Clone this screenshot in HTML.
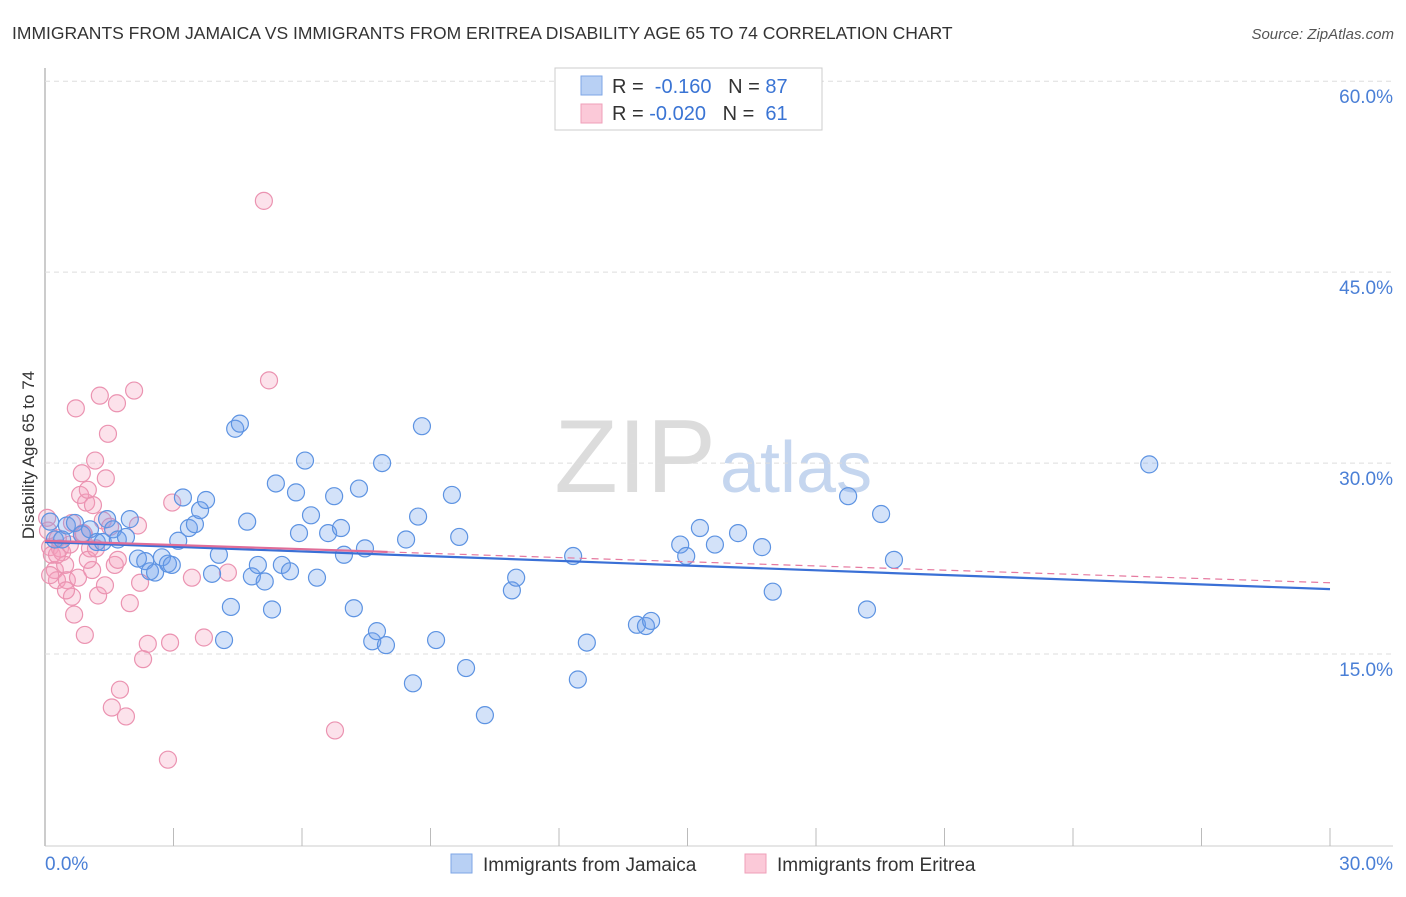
<!DOCTYPE html>
<html><head><meta charset="utf-8"><style>
body{margin:0;background:#fff;font-family:"Liberation Sans",sans-serif;}
svg text{font-family:"Liberation Sans",sans-serif;}
</style></head><body>
<svg id="c" width="1406" height="892">
<text x="12" y="39" font-size="17.5" fill="#333">IMMIGRANTS FROM JAMAICA VS IMMIGRANTS FROM ERITREA DISABILITY AGE 65 TO 74 CORRELATION CHART</text>
<text x="1394" y="39" font-size="15" fill="#555" font-style="italic" text-anchor="end">Source: ZipAtlas.com</text>
<text x="716" y="492" font-size="104" fill="#dcdcdc" text-anchor="end" font-family="Liberation Serif">ZIP</text>
<text x="720" y="492" font-size="72" fill="#c5d6ef">atlas</text>
<text x="34" y="455" font-size="17" fill="#333" text-anchor="middle" transform="rotate(-90 34 455)">Disability Age 65 to 74</text>
<g id="grid"></g><g id="pts"></g><g id="lines"></g>
<g>
<rect x="555" y="68" width="267" height="62" fill="#fff" stroke="#ccc"/>
<rect x="581" y="76" width="21" height="19" fill="#b8d0f4" stroke="#7ea6e6"/>
<rect x="581" y="104" width="21" height="19" fill="#fbc9d8" stroke="#ef9fb9"/>
<text x="612" y="93" font-size="20" fill="#333">R = <tspan fill="#3a74d4">&#160;-0.160</tspan>&#160;&#160;&#160;N = <tspan fill="#3a74d4">87</tspan></text>
<text x="612" y="120" font-size="20" fill="#333">R = <tspan fill="#3a74d4">-0.020</tspan>&#160;&#160;&#160;N = <tspan fill="#3a74d4">&#160;61</tspan></text>
</g>
<g>
<rect x="451" y="854" width="21" height="19" fill="#b8d0f4" stroke="#7ea6e6"/>
<text x="483" y="871" font-size="19" fill="#333">Immigrants from Jamaica</text>
<rect x="745" y="854" width="21" height="19" fill="#fbc9d8" stroke="#ef9fb9"/>
<text x="777" y="871" font-size="19" fill="#333">Immigrants from Eritrea</text>
</g>
</svg>
<script>
const xTicks=["0.0%","30.0%"];
const yTickVals=[15,30,45,60];
const yTickLabels=["15.0%","30.0%","45.0%","60.0%"];
const jamaicaX=[0.12,0.23,0.4,0.51,0.7,0.86,1.05,1.21,1.35,1.45,1.59,1.7,1.89,1.98,2.17,2.34,2.45,2.57,2.73,2.87,2.96,3.11,3.22,3.36,3.5,3.62,3.76,3.9,4.06,4.18,4.34,4.44,4.55,4.72,4.83,4.97,5.13,5.3,5.39,5.53,5.72,5.86,5.93,6.07,6.21,6.35,6.61,6.75,6.91,6.98,7.21,7.33,7.47,7.64,7.75,7.87,7.96,8.43,8.59,8.71,8.8,9.13,9.5,9.67,9.83,10.27,10.9,11,12.33,12.44,12.65,13.82,14.03,14.15,14.83,14.97,15.29,15.64,16.18,16.74,16.99,18.75,19.19,19.52,19.82,25.78];
const jamaicaY=[25.4,24.0,24.0,25.1,25.3,24.4,24.8,23.8,23.8,25.6,24.8,24.0,24.2,25.6,22.5,22.3,21.5,21.4,22.6,22.1,22.0,23.9,27.3,24.9,25.2,26.3,27.1,21.3,22.8,16.1,18.7,32.7,33.1,25.4,21.1,22.0,20.7,18.5,28.4,22.0,21.5,27.7,24.5,30.2,25.9,21.0,24.5,27.4,24.9,22.8,18.6,28.0,23.3,16.0,16.8,30.0,15.7,24.0,12.7,25.8,32.9,16.1,27.5,24.2,13.9,10.2,20.0,21.0,22.7,13.0,15.9,17.3,17.2,17.6,23.6,22.7,24.9,23.6,24.5,23.4,19.9,27.4,18.5,26.0,22.4,29.9];
const eritreaX=[0.05,0.07,0.12,0.16,0.23,0.28,0.35,0.40,0.47,0.51,0.58,0.63,0.68,0.72,0.77,0.82,0.86,0.91,0.96,1.00,1.05,1.10,1.12,1.17,1.24,1.28,1.35,1.42,1.47,1.52,1.63,1.68,1.75,1.89,1.56,1.98,2.08,2.17,2.22,2.29,2.40,2.87,2.92,2.97,3.43,3.71,4.27,5.11,5.23,6.77,0.28,0.93,1.40,0.12,0.30,0.49,0.63,1.00,1.70,0.89,1.19];
const eritreaY=[25.7,24.7,23.4,22.8,21.6,20.8,23.3,23.0,22.0,20.8,23.6,19.5,18.1,34.3,21.0,27.5,29.2,24.4,26.9,27.9,23.3,21.6,26.7,30.2,19.6,35.3,25.5,28.8,32.3,25.0,22.0,34.7,12.2,10.1,10.8,19.0,35.7,25.1,20.6,14.6,15.8,6.7,15.9,26.9,21.0,16.3,21.4,50.6,36.5,9.0,22.8,16.5,20.4,21.2,24.1,20.0,25.3,22.4,22.4,24.5,23.3];
const jamaicaTrend=[23.8,20.1];
const eritreaTrend=[23.9,20.6];
const eritreaSolidEnd=8.0;
const NS="http://www.w3.org/2000/svg";
const X0=45,X1=1330,Y0=845,PPY=12.73;
function sx(v){return X0+(X1-X0)*v/30;}
function sy(v){return Y0-v*PPY;}
function mk(tag,attrs,parent){const e=document.createElementNS(NS,tag);for(const k in attrs)e.setAttribute(k,attrs[k]);parent.appendChild(e);return e;}
const grid=document.getElementById('grid');
const ax=mk('line',{x1:X0,y1:68,x2:X0,y2:846,stroke:'#bbb','stroke-width':1.5},grid);


const bx=mk('line',{x1:X0,y1:846,x2:1393,y2:846,stroke:'#ccc'},grid);


yTickVals.forEach((v,i)=>{
 const l=mk('line',{x1:X0,y1:sy(v),x2:1393,y2:sy(v),stroke:'#ddd','stroke-dasharray':'5,4'},grid);
 
 
 const t=mk('text',{x:1393,y:sy(v)+22,'font-size':19,fill:'#4a7fd6','text-anchor':'end'},grid);
 t.textContent=yTickLabels[i];
 
 
});
for(let i=0;i<=10;i++){
 const l=mk('line',{x1:sx(i*3),y1:828,x2:sx(i*3),y2:846,stroke:'#bbb'},grid);
 
 
}
const t0=mk('text',{x:45,y:870,'font-size':19,fill:'#4a7fd6'},grid);t0.textContent=xTicks[0];


const t1=mk('text',{x:1393,y:870,'font-size':19,fill:'#4a7fd6','text-anchor':'end'},grid);t1.textContent=xTicks[1];


const pts=document.getElementById('pts');
eritreaX.forEach((x,i)=>{
 const c=mk('circle',{cx:sx(x),cy:sy(eritreaY[i]),r:8.5,fill:'rgba(244,160,188,0.3)',stroke:'#eb93b1','stroke-width':1.2},pts);
 
 
});
jamaicaX.forEach((x,i)=>{
 const c=mk('circle',{cx:sx(x),cy:sy(jamaicaY[i]),r:8.5,fill:'rgba(110,160,235,0.3)',stroke:'#5d93e2','stroke-width':1.2},pts);
 
 
});
const lines=document.getElementById('lines');
const ef=x=>eritreaTrend[0]+(eritreaTrend[1]-eritreaTrend[0])*x/30;
const ed=mk('line',{x1:sx(eritreaSolidEnd),y1:sy(ef(eritreaSolidEnd)),x2:sx(30),y2:sy(eritreaTrend[1]),stroke:'#e67aa0','stroke-width':1.2,'stroke-dasharray':'7,5'},lines);


const jl=mk('line',{x1:sx(0),y1:sy(jamaicaTrend[0]),x2:sx(30),y2:sy(jamaicaTrend[1]),stroke:'#3a70d6','stroke-width':2.2},lines);


const el=mk('line',{x1:sx(0),y1:sy(eritreaTrend[0]),x2:sx(eritreaSolidEnd),y2:sy(ef(eritreaSolidEnd)),stroke:'#e06d98','stroke-width':2.2},lines);


</script>
</body></html>
